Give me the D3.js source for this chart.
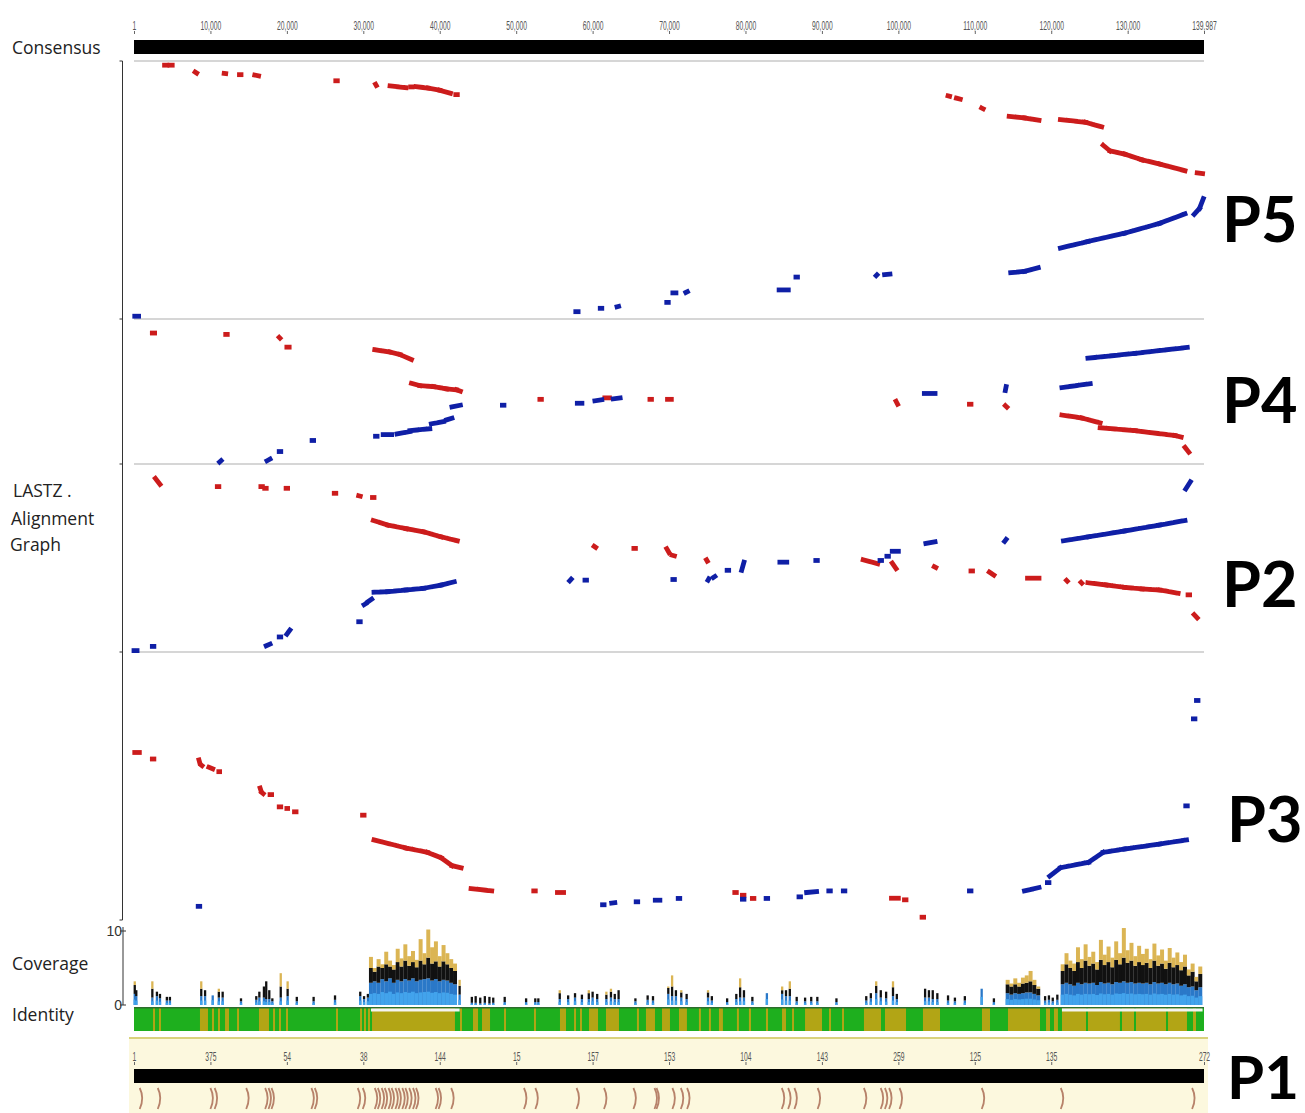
<!DOCTYPE html>
<html><head><meta charset="utf-8">
<script src="https://cdn.jsdelivr.net/npm/d3@7"></script>
<style>body{margin:0;background:#fff}</style>
</head><body><svg id="c" width="1305" height="1113"></svg>
<script>
// ---------- DATA (x positions in kb of the consensus, y in kb of each genome) ----------
const axisTickKb = [0.001,10,20,30,40,50,60,70,80,90,100,110,120,130,139.987];
const consensusTickLabels = ["1","10,000","20,000","30,000","40,000","50,000","60,000","70,000","80,000","90,000","100,000","110,000","120,000","130,000","139,987"];
const p1TickKb = [0.001,10,20,30,40,50,60,70,80,90,100,110,120,139.987];
const p1TickLabels = ["1","375","54","38","144","15","157","153","104","143","259","125","135","272"];

const panelNames = ["P5","P4","P2","P3"];
const panelLengthKb = [129, 145, 141, 134];

// alignment hits: [xStart, yStart, xEnd, yEnd] (kb)
const p5Red = [[4.0,127.9,4.3,127.9],[4.7,127.9,5.0,127.9],[8.0,124.4,8.2,123.9],[11.8,123.7,12.0,123.6],[13.8,123.1,14.0,123.1],[15.8,122.9,16.3,122.5],[26.4,120.0,26.6,120.0],[31.6,118.3,31.7,117.6],[33.5,117.4,35.6,116.5],[36.2,116.9,36.4,116.9],[36.9,117.0,38.5,116.3],[38.5,116.3,40.0,115.2],[40.0,115.2,41.4,113.7],[42.1,113.0,42.3,113.0],[106.5,112.4,106.7,112.2],[107.6,111.2,108.1,110.7],[110.9,106.2,111.1,105.8],[114.5,102.0,116.5,101.2],[116.5,101.2,118.4,100.0],[121.2,100.4,124.5,99.0],[124.5,99.0,126.6,96.7],[126.8,87.4,127.7,84.5],[127.7,84.5,129.6,82.9],[129.6,82.9,131.9,80.0],[131.9,80.0,134.2,77.9],[134.2,77.9,137.5,74.5],[139.1,73.4,139.8,73.1]];
const p5Blue = [[0.1,0.9,0.6,0.9],[57.8,3.2,58.1,3.2],[61.0,4.9,61.2,4.9],[63.2,5.7,63.4,5.9],[69.7,7.9,69.9,7.9],[70.5,12.7,70.9,12.7],[72.2,12.9,72.4,13.3],[84.4,14.2,85.6,14.2],[86.6,20.7,86.8,20.7],[97.1,21.4,97.2,21.8],[98.2,21.9,98.9,22.2],[114.7,22.9,116.5,23.6],[116.5,23.6,118.3,25.4],[121.2,35.4,124.8,38.7],[124.8,38.7,129.6,42.9],[129.6,42.9,134.2,47.9],[134.2,47.9,137.5,52.7],[138.7,52.4,139.4,55.4],[139.4,55.4,139.9,60.4]];

const p4Red = [[2.4,132.7,2.7,132.7],[12.0,131.3,12.2,131.3],[19.0,128.3,19.1,127.5],[20.0,118.3,20.3,118.3],[31.5,115.7,33.5,113.3],[33.5,113.3,34.8,110.7],[34.8,110.7,36.3,105.7],[36.3,81.3,37.4,79.0],[37.4,79.0,39.2,78.0],[39.2,78.0,40.9,75.7],[40.9,75.7,42.2,74.7],[42.2,74.7,42.7,73.3],[53.1,65.0,53.3,65.0],[61.6,66.5,62.2,66.5],[67.5,65.0,67.7,65.0],[69.8,65.0,70.3,65.0],[99.7,63.0,99.9,60.0],[109.3,60.0,109.5,60.0],[114.0,58.5,114.2,57.0],[121.4,49.0,124.0,46.0],[124.0,46.0,126.4,41.0],[126.4,36.0,131.0,33.0],[131.0,33.0,136.2,28.0],[136.2,28.0,137.0,26.5],[137.5,16.0,138.0,11.0]];
const p4Blue = [[11.2,1.0,11.4,2.4],[17.4,2.3,17.8,4.0],[19.0,11.7,19.2,11.7],[23.3,23.0,23.5,23.0],[31.6,27.3,31.8,27.3],[32.6,29.0,33.7,29.0],[34.4,29.7,36.1,32.0],[36.1,33.0,38.7,35.0],[38.9,40.0,40.5,42.3],[40.9,44.0,41.6,45.7],[41.6,57.3,42.7,59.0],[48.2,59.0,48.4,59.0],[58.0,61.0,58.6,61.0],[60.3,63.5,61.2,64.5],[62.7,65.5,63.6,66.5],[103.4,71.0,104.8,71.0],[114.0,74.0,114.1,78.0],[121.4,77.0,125.1,81.0],[124.8,107.0,131.0,112.0],[131.0,112.0,137.8,118.0]];

const p2Red = [[2.8,131.5,3.4,127.0],[10.9,125.3,11.1,125.3],[16.6,125.3,16.8,125.3],[17.1,124.0,17.3,124.0],[19.9,124.0,20.1,124.0],[26.2,120.2,26.4,120.2],[29.4,118.3,29.6,118.0],[31.2,117.0,31.4,117.0],[31.3,99.5,33.2,96.0],[33.2,96.0,35.6,93.2],[35.6,93.2,37.9,90.8],[37.9,90.8,40.2,87.0],[40.2,87.0,42.3,84.0],[60.2,79.8,60.4,79.0],[65.4,78.2,65.6,78.2],[69.7,78.0,70.0,75.0],[70.4,73.0,70.7,72.5],[74.9,69.5,75.0,68.5],[95.4,69.5,97.3,66.5],[99.2,67.0,99.7,62.8],[104.7,64.3,104.9,63.7],[109.5,61.0,109.7,61.0],[111.9,60.2,112.5,57.8],[116.9,55.5,118.4,55.5],[122.0,53.8,122.1,53.2],[123.9,52.3,124.0,51.7],[124.8,52.0,127.2,50.3],[127.2,50.3,129.6,48.5],[129.6,48.5,131.9,47.3],[131.9,47.3,134.2,46.5],[134.2,46.5,136.6,44.0],[137.9,42.8,138.1,42.8],[138.7,27.8,139.1,25.3]];
const p2Blue = [[0.0,0.3,0.4,0.3],[2.4,3.5,2.6,3.5],[17.3,4.0,17.8,5.3],[19.0,10.7,19.2,10.7],[20.0,12.8,20.4,16.0],[29.4,22.3,29.6,22.3],[30.1,35.3,30.3,36.0],[30.6,37.5,31.1,39.5],[31.4,44.8,33.2,45.2],[33.2,45.2,35.6,46.5],[35.6,46.5,37.9,47.8],[37.9,47.8,40.2,50.3],[40.2,50.3,41.9,52.7],[57.0,53.5,57.2,54.8],[59.0,54.0,59.2,54.0],[70.5,54.5,70.7,54.5],[75.1,54.0,75.2,55.0],[75.8,56.0,76.0,56.8],[77.6,61.5,77.8,61.5],[79.5,61.5,79.8,67.7],[84.5,67.7,85.4,67.7],[89.2,69.0,89.4,69.0],[97.6,69.0,97.8,69.0],[98.5,72.2,98.7,72.2],[99.2,76.0,100.0,76.0],[103.6,82.0,104.8,83.3],[113.9,83.5,114.1,85.0],[121.6,84.0,124.9,87.0],[124.9,87.0,129.6,91.5],[129.6,91.5,134.2,96.0],[134.2,96.0,137.5,99.5],[137.6,123.5,138.2,129.0]];

const p3Red = [[0.1,84.2,0.7,84.2],[2.4,80.9,2.6,80.9],[8.5,80.4,8.6,79.0],[8.8,77.8,8.9,77.5],[9.8,76.7,10.3,75.9],[11.1,74.5,11.2,74.5],[16.5,66.2,16.6,65.0],[16.7,64.0,16.9,63.4],[17.8,62.9,18.0,62.9],[19.0,56.7,19.2,56.7],[20.0,55.9,20.1,55.9],[21.0,54.2,21.2,54.2],[29.9,52.5,30.1,52.5],[31.4,40.0,35.6,35.9],[35.6,35.9,38.4,33.7],[38.4,33.7,40.2,30.9],[40.2,30.9,41.6,27.0],[41.6,27.0,42.8,25.9],[44.1,15.4,46.8,14.2],[52.3,14.2,52.5,14.2],[55.4,13.4,56.2,13.4],[78.6,13.4,78.8,13.4],[79.6,12.0,79.8,12.0],[80.9,10.4,81.1,10.4],[99.1,10.5,100.0,10.5],[100.8,9.7,101.0,9.7],[103.1,0.9,103.3,0.9]];
const p3Blue = [[8.4,6.4,8.6,6.4],[61.3,7.2,61.5,7.2],[62.5,8.0,62.9,8.2],[65.7,8.7,65.9,8.7],[68.2,9.5,68.8,9.5],[71.2,10.4,71.4,10.4],[79.6,10.0,79.8,10.0],[82.7,10.4,82.9,10.4],[87.0,11.2,87.2,11.2],[88.0,13.4,89.3,13.9],[90.9,14.2,91.1,14.2],[92.8,14.2,93.0,14.2],[109.3,14.2,109.5,14.2],[116.5,14.2,118.4,15.9],[119.5,18.4,119.7,18.4],[119.8,21.7,121.2,25.9],[121.2,25.9,124.9,28.7],[124.9,28.7,126.8,33.7],[126.8,33.7,129.6,35.4],[129.6,35.4,134.2,37.9],[134.2,37.9,137.7,40.0],[137.6,57.2,137.8,57.2],[138.6,101.2,138.8,101.2],[139.0,110.5,139.2,110.5]];

// coverage: [x kb, blue, black, gold]  (stacked depth)
const coverageSparse = [[0.1,1.5,1.2,0.5],[0.3,1.2,0.8,0],[2.4,1.0,1.2,1.0],[3.0,1.2,0.6,0],[3.4,0.9,0.6,0],[4.3,0.6,0.5,0],[4.7,0.6,0.5,0],[8.8,1.2,1.0,1.0],[9.3,1.2,0.8,0],[10.3,1.3,0,0],[11.1,1.0,0.8,0.4],[11.6,1.0,0.8,0],[14.0,0.5,0.4,0],[16.0,0.7,0.5,0],[16.4,1.0,0.8,0],[17.0,1.0,1.5,0],[17.3,0.8,2.4,0],[17.7,0.8,1.2,0],[18.1,0.5,0.4,0],[19.2,1.0,1.5,1.8],[20.1,1.2,1.0,1.0],[21.3,0.5,0.6,0],[23.5,0.5,0.6,0],[26.3,0.7,0.6,0],[29.6,1.2,0.6,0],[30.1,0.8,0.4,0],[30.6,1.0,0.5,0],[42.6,1.4,1.2,0.8],[44.2,0.3,0.8,0],[44.7,0.3,0.9,0],[45.3,0.2,0.8,0],[45.9,0.3,0.9,0],[46.5,0.2,0.9,0],[47.0,0.3,0.7,0],[48.5,0.4,0.7,0],[51.3,0.4,0.5,0],[52.5,0.4,0.5,0],[52.9,0.4,0.5,0],[55.7,0.8,0.8,0.4],[56.8,0.8,0.5,0],[57.7,1.0,0.6,0],[58.6,0.8,0.6,0],[59.5,0.8,0.8,0.4],[60.0,1.0,0.8,0],[60.6,0.8,0.7,0],[61.8,0.8,0.6,0.4],[62.4,1.0,0.8,0.4],[62.9,0.8,0.7,0],[63.4,0.8,1.2,0],[65.6,0.5,0.4,0],[67.2,0.7,0.6,0],[67.9,0.6,0.6,0],[69.9,1.5,0.8,0.2],[70.4,1.2,1.3,1.5],[70.9,1.2,0.8,0],[71.6,1.0,0.7,0.3],[72.3,0.8,0.7,0],[75.1,1.0,0.7,0.3],[75.6,0.6,0.6,0],[77.6,0.4,0.5,0],[78.8,0.8,0.7,0],[79.3,1.0,1.4,1.2],[79.8,1.0,1.0,0],[80.9,0.5,0.6,0],[82.8,1.6,0,0],[84.8,1.5,0.5,0.5],[85.3,1.2,0.8,0],[85.8,1.2,1.0,1.0],[86.7,0.5,0.6,0],[87.8,0.5,0.5,0],[88.6,0.5,0.6,0],[89.4,0.5,0.6,0],[91.9,0.4,0.5,0],[95.8,0.6,0.6,0],[96.4,0.9,0.7,0],[97.1,1.6,1.0,0.6],[97.7,1.0,1.0,0],[98.4,0.9,0.9,0],[99.3,1.2,1.2,0.8],[99.8,0.8,0.7,0],[103.5,1.0,1.2,0],[104.0,1.0,1.0,0],[104.5,0.8,1.2,0],[105.1,0.8,0.8,0],[106.5,0.6,0.7,0],[107.4,0.5,0.5,0],[108.7,0.6,0.6,0],[110.9,2.2,0,0],[112.5,0.4,0.5,0],[119.2,0.6,0.6,0],[119.7,0.7,0.6,0],[120.2,0.5,0.5,0],[120.8,0.7,0.7,0]];
const coverageDense = [[31.0,3.0,2.0,1.5],[31.5,3.2,1.3,0.5],[32.0,3.0,2.2,1.0],[32.5,3.5,1.5,0.5],[33.0,3.2,2.3,1.7],[33.5,3.6,1.6,0.8],[34.0,3.0,1.8,0.6],[34.5,3.4,2.4,1.8],[35.0,3.2,2.0,1.1],[35.5,3.5,2.5,2.2],[36.0,3.3,2.0,1.3],[36.5,3.6,2.2,1.5],[37.0,3.2,1.9,1.0],[37.5,3.4,2.6,2.9],[38.0,3.5,2.0,1.5],[38.5,3.6,2.8,3.8],[39.0,3.3,2.3,2.2],[39.5,3.5,2.4,2.7],[40.0,3.2,2.0,1.4],[40.5,3.4,2.5,2.2],[41.0,3.3,2.2,1.5],[41.5,3.0,2.0,1.2],[42.0,2.8,1.8,1.0],
[114.3,1.6,1.2,0.6],[114.8,1.4,1.1,0.4],[115.3,1.6,1.2,0.8],[115.8,1.5,1.0,0.5],[116.3,1.6,1.3,0.8],[116.8,1.7,1.3,1.0],[117.3,1.7,1.5,1.4],[117.8,1.5,1.2,0.7],[118.3,1.3,0.9,0.3],
[121.5,2.8,1.8,0.9],[122.0,3.0,2.5,1.5],[122.5,2.8,2.2,1.0],[123.0,2.6,2.0,1.0],[123.5,3.0,2.8,2.0],[124.0,2.8,2.2,1.2],[124.5,3.0,3.0,2.2],[125.0,2.9,2.4,1.2],[125.5,3.0,2.6,1.6],[126.0,2.7,2.1,1.0],[126.5,3.1,3.0,2.7],[127.0,2.9,2.5,1.4],[127.5,3.0,2.8,2.1],[128.0,2.8,2.3,1.3],[128.5,3.1,3.0,2.5],[129.0,3.0,2.5,1.5],[129.5,3.2,3.2,4.0],[130.0,3.0,2.7,1.7],[130.5,3.1,2.9,2.4],[131.0,2.9,2.4,1.3],[131.5,3.0,2.8,2.2],[132.0,2.9,2.5,1.5],[132.5,3.0,2.7,1.9],[133.0,2.8,2.2,1.2],[133.5,3.1,2.9,2.3],[134.0,2.9,2.4,1.4],[134.5,3.0,2.6,1.9],[135.0,2.8,2.1,1.1],[135.5,3.0,2.7,2.0],[136.0,2.8,2.3,1.3],[136.5,2.9,2.5,1.7],[137.0,2.6,2.1,1.1],[137.5,2.8,2.4,1.6],[138.0,2.4,1.6,0.8],[138.5,2.5,2.0,1.1],[139.0,2.0,1.2,0.6],[139.5,2.4,1.8,1.0]];

// low identity intervals (kb) on the identity track
const identityLow = [[2.49,2.75],[3.27,3.53],[8.63,9.68],[10.20,10.47],[10.99,11.25],[11.91,12.43],[13.48,13.74],[16.35,17.66],[18.19,18.45],[18.97,19.23],[19.89,20.15],[26.43,26.69],[29.57,29.83],[30.09,30.35],[30.61,30.88],[31.14,41.99],[42.65,42.91],[44.35,45.01],[45.53,46.58],[48.41,48.67],[52.33,52.59],[55.73,56.52],[57.57,57.83],[58.35,58.61],[59.53,60.71],[61.75,63.45],[65.80,66.06],[66.98,68.16],[69.08,70.12],[71.30,72.34],[73.91,74.17],[75.22,75.48],[76.53,77.05],[78.88,79.14],[80.45,80.72],[82.68,82.95],[84.78,85.30],[86.09,86.35],[87.79,90.01],[90.93,91.19],[92.63,92.89],[95.50,97.73],[98.25,101.00],[103.22,105.45],[110.94,111.99],[114.34,118.53],[119.32,119.84],[120.36,120.88],[121.41,124.55],[124.81,128.99],[129.26,130.83],[131.09,135.02],[135.28,137.76],[138.55,138.94]];
const identityDip = [[31.0,42.6],[121.4,139.8]];

// P1 annotation features (kb)
const p1Features = [0.75,3.11,10.0,10.55,14.68,17.16,17.6,17.99,23.21,23.65,29.27,29.93,31.5,31.9,32.4,32.8,33.3,33.7,34.2,34.6,35.1,35.5,36.0,36.5,36.9,39.46,39.85,41.5,51.02,52.51,57.9,61.49,65.34,68.1,68.36,70.44,71.54,72.36,84.75,85.58,86.40,89.44,95.49,97.69,98.24,98.79,100.16,110.91,121.25,138.43];

// ---------- DRAWING ----------
const svg = d3.select("#c");
const x = d3.scaleLinear().domain([0.001, 139.987]).range([134, 1204]);
const sansFont = "'Open Sans', 'Noto Sans', sans-serif";
const bigFont = "Lato, 'Open Sans', sans-serif";

// left labels
const labels = [["Consensus",12,54],["LASTZ .",13,497],["Alignment",11,525],["Graph",10,551],["Coverage",12,970],["Identity",12,1021]];
svg.selectAll("text.lbl").data(labels).join("text").attr("class","lbl")
  .attr("x",d=>d[1]).attr("y",d=>d[2]).text(d=>d[0])
  .attr("font-family",sansFont).attr("font-size",17.5).attr("fill","#222");

// top axis
const topAxis = svg.append("g").attr("transform","translate(0,34)")
  .call(d3.axisTop(x).tickValues(axisTickKb).tickSize(3).tickPadding(1).tickFormat((d,i)=>consensusTickLabels[i]));
topAxis.select(".domain").remove();
topAxis.selectAll("line").attr("stroke","#666");
topAxis.selectAll("text").attr("font-family","'Liberation Sans', Arial, sans-serif").attr("font-size",13.5)
  .attr("fill","#555").attr("transform","scale(0.5,1)");

// consensus bar
svg.append("rect").attr("x",x(0.001)).attr("y",40).attr("width",x(139.987)-x(0.001)).attr("height",14).attr("fill","#000");

// panels
const panelTop = [61,319,464,652], panelBottom = [319,464,652,920];
const redSets = [p5Red,p4Red,p2Red,p3Red], blueSets = [p5Blue,p4Blue,p2Blue,p3Blue];
const labelPos = [[1222,242],[1222,423],[1222,607],[1227,842]];

// left axis
svg.append("line").attr("x1",122.5).attr("x2",122.5).attr("y1",61).attr("y2",920).attr("stroke","#333").attr("stroke-width",1);
[61,319,464,652,920].forEach(yy=>svg.append("line").attr("x1",119.5).attr("x2",122.5).attr("y1",yy).attr("y2",yy).attr("stroke","#333"));
// separators
[61,319,464,652].forEach(yy=>svg.append("line").attr("x1",x(0.001)).attr("x2",x(139.987)).attr("y1",yy).attr("y2",yy).attr("stroke","#c8c8c8").attr("stroke-width",1.6));

panelNames.forEach((name,i)=>{
  const y = d3.scaleLinear().domain([0,panelLengthKb[i]]).range([panelBottom[i]-1,panelTop[i]+2]);
  const g = svg.append("g");
  const draw = (data,color)=>g.selectAll(null).data(data).join("line")
    .attr("x1",d=>x(d[0])).attr("y1",d=>y(d[1])).attr("x2",d=>x(d[2])).attr("y2",d=>y(d[3]))
    .attr("stroke",color).attr("stroke-width",4.8).attr("stroke-linecap","square")
    .attr("stroke-dasharray",d=>Math.abs(x(d[2])-x(d[0]))>12 ? "7,1" : null);
  draw(redSets[i],"#cc1c1c");
  draw(blueSets[i],"#0f1fa6");
  svg.append("text").attr("x",labelPos[i][0]).attr("y",labelPos[i][1]).text(name)
    .attr("font-family",bigFont).attr("font-weight",700).attr("font-size",63).attr("fill","#000");
});

// coverage
const yCov = d3.scaleLinear().domain([0,10]).range([1005,931]);
svg.append("line").attr("x1",123).attr("x2",123).attr("y1",927).attr("y2",1005).attr("stroke","#333");
[[10,"10"],[0,"0"]].forEach(t=>{
  svg.append("line").attr("x1",120).attr("x2",126).attr("y1",yCov(t[0])).attr("y2",yCov(t[0])).attr("stroke","#333");
  svg.append("text").attr("x",122).attr("y",yCov(t[0])+5).attr("text-anchor","end").text(t[1])
   .attr("font-family","'Liberation Sans', Arial, sans-serif").attr("font-size",14).attr("fill","#333");
});
function drawCov(data,w){
  const g = svg.append("g");
  const bw = x(w)-x(0);
  data.forEach(d=>{
    const x0 = x(d[0]) - bw/2;
    const b = d[1], k = d[2], gd = d[3];
    g.append("rect").attr("x",x0).attr("width",bw).attr("y",yCov(b)).attr("height",yCov(0)-yCov(b)).attr("fill","#2a78c8");
    g.append("rect").attr("x",x0).attr("width",bw).attr("y",yCov(b*0.5)).attr("height",yCov(0)-yCov(b*0.5)).attr("fill","#42a3ec");
    if(k>0) g.append("rect").attr("x",x0).attr("width",bw).attr("y",yCov(b+k)).attr("height",yCov(b)-yCov(b+k)).attr("fill","#111");
    if(gd>0) g.append("rect").attr("x",x0).attr("width",bw).attr("y",yCov(b+k+gd)).attr("height",yCov(b+k)-yCov(b+k+gd)).attr("fill","#dbb554");
  });
}
drawCov(coverageSparse,0.3);
drawCov(coverageDense,0.52);

// identity band
const idTop = 1007, idBot = 1031;
svg.append("rect").attr("x",x(0.001)).attr("y",idTop).attr("width",x(139.987)-x(0.001)).attr("height",idBot-idTop).attr("fill","#1eaf1e");
svg.selectAll("rect.low").data(identityLow).join("rect").attr("class","low")
  .attr("x",d=>x(d[0])).attr("width",d=>x(d[1])-x(d[0])).attr("y",idTop).attr("height",idBot-idTop).attr("fill","#b2a515");
svg.append("rect").attr("x",x(0.001)).attr("y",idTop).attr("width",x(139.987)-x(0.001)).attr("height",1.5).attr("fill","#2c6e2c");
svg.selectAll("rect.dip").data(identityDip).join("rect").attr("class","dip")
  .attr("x",d=>x(d[0])).attr("width",d=>x(d[1])-x(d[0])).attr("y",idTop+1.5).attr("height",3).attr("fill","#f4f4f0");

// P1 track
svg.append("rect").attr("x",129).attr("y",1038).attr("width",1079).attr("height",75).attr("fill","#fcf8de");
svg.append("rect").attr("x",129).attr("y",1037).attr("width",1079).attr("height",2).attr("fill","#d9d27c");
const p1Axis = svg.append("g").attr("transform","translate(0,1065)")
  .call(d3.axisTop(x).tickValues(p1TickKb).tickSize(3).tickPadding(1).tickFormat((d,i)=>p1TickLabels[i]));
p1Axis.select(".domain").remove();
p1Axis.selectAll("line").attr("stroke","#666");
p1Axis.selectAll("text").attr("font-family","'Liberation Sans', Arial, sans-serif").attr("font-size",13.5)
  .attr("fill","#555").attr("transform","scale(0.5,1)");
svg.append("rect").attr("x",x(0.001)).attr("y",1069).attr("width",x(139.987)-x(0.001)).attr("height",14).attr("fill","#000");
svg.selectAll("path.feat").data(p1Features).join("path").attr("class","feat")
  .attr("d",d=>`M${x(d)},1088 Q${x(d)+5},1098 ${x(d)},1109`)
  .attr("fill","none").attr("stroke","#b7826a").attr("stroke-width",1.8);
svg.append("text").attr("x",1227).attr("y",1099).text("P1")
  .attr("font-family",bigFont).attr("font-weight",700).attr("font-size",60).attr("fill","#000");
</script></body></html>
